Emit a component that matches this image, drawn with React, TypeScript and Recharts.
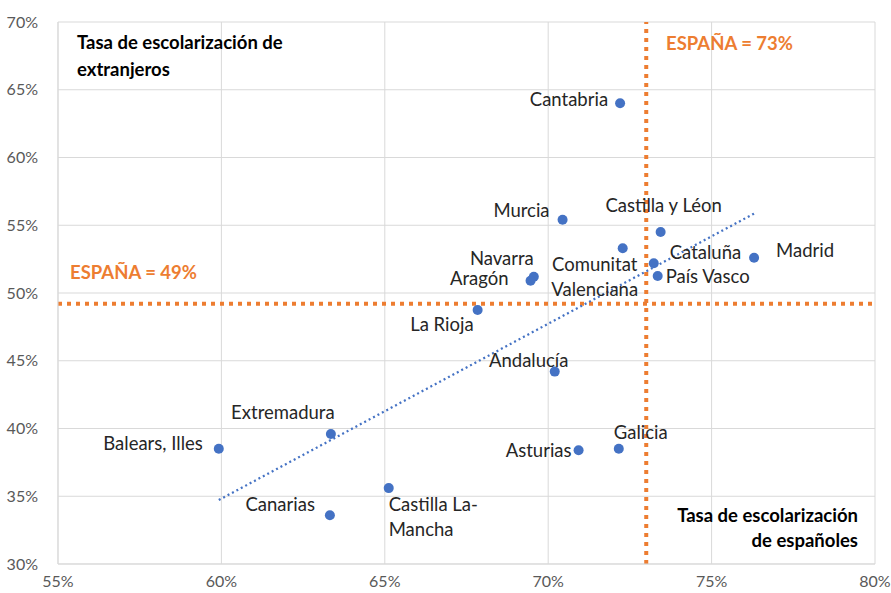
import React from 'react';
import { ScatterChart, Scatter, XAxis, YAxis, CartesianGrid, ReferenceLine } from 'recharts';

const regions = [
  'Cantabria', 'Murcia', 'Castilla y Léon', 'Comunitat Valenciana', 'Cataluña', 'Madrid',
  'País Vasco', 'Navarra', 'Aragón', 'La Rioja', 'Andalucía', 'Extremadura',
  'Balears, Illes', 'Asturias', 'Galicia', 'Castilla La-Mancha', 'Canarias'
];
const spanishRate = [72.2, 70.44, 73.44, 72.28, 73.23, 76.3, 73.35, 69.56, 69.46, 67.84, 70.2, 63.35, 59.92, 70.93, 72.16, 65.12, 63.32];
const foreignRate = [64.0, 55.4, 54.5, 53.3, 52.2, 52.6, 51.25, 51.2, 50.9, 48.75, 44.2, 39.6, 38.5, 38.4, 38.5, 35.6, 33.6];
const xTicks = [55, 60, 65, 70, 75, 80];
const yTicks = [30, 35, 40, 45, 50, 55, 60, 65, 70];
const spainSpanish = 73;
const spainForeign = 49.2;

// label placement (offset from point, anchor, lines)
const labelPlace: Record<string, { dx: number; dy: number; anchor: string; lines?: string[] }> = {
  'Cantabria': { dx: -12, dy: -4, anchor: 'end' },
  'Murcia': { dx: -13, dy: -10, anchor: 'end' },
  'Castilla y Léon': { dx: 3, dy: -27, anchor: 'middle' },
  'Comunitat Valenciana': { dx: -28, dy: 16, anchor: 'middle', lines: ['Comunitat', 'Valenciana'] },
  'Cataluña': { dx: 16, dy: -11, anchor: 'start' },
  'Madrid': { dx: 22, dy: -8, anchor: 'start' },
  'País Vasco': { dx: 8, dy: 0, anchor: 'start' },
  'Navarra': { dx: 0, dy: -19, anchor: 'end' },
  'Aragón': { dx: -22, dy: -3, anchor: 'end' },
  'La Rioja': { dx: -4, dy: 14, anchor: 'end' },
  'Andalucía': { dx: -26, dy: -12, anchor: 'middle' },
  'Extremadura': { dx: -48, dy: -22, anchor: 'middle' },
  'Balears, Illes': { dx: -16, dy: -6, anchor: 'end' },
  'Asturias': { dx: -7, dy: 0, anchor: 'end' },
  'Galicia': { dx: 22, dy: -17, anchor: 'middle' },
  'Castilla La-Mancha': { dx: 0, dy: 16, anchor: 'start', lines: ['Castilla La-', 'Mancha'] },
  'Canarias': { dx: -15, dy: -11, anchor: 'end' },
};

const points = regions.map((name, i) => ({ name, x: spanishRate[i], y: foreignRate[i] }));

// linear trendline from the points
const n = points.length;
const mx = spanishRate.reduce((a, b) => a + b, 0) / n;
const my = foreignRate.reduce((a, b) => a + b, 0) / n;
let sxy = 0, sxx = 0;
points.forEach(p => { sxy += (p.x - mx) * (p.y - my); sxx += (p.x - mx) ** 2; });
const slope = sxy / sxx;
const x0 = Math.min(...spanishRate), x1 = Math.max(...spanishRate);
const trend = [
  { x: x0, y: my + slope * (x0 - mx) },
  { x: x1, y: my + slope * (x1 - mx) },
];

const FONT = 'Lato, "Noto Sans", sans-serif';
const ORANGE = '#ED7D31';
const BLUE = '#4472C4';

function PointShape(props: any) {
  const { cx, cy, payload } = props;
  const lp = labelPlace[payload.name];
  const lines = lp.lines ?? [payload.name];
  return (
    <g>
      <circle cx={cx} cy={cy} r={5} fill={BLUE} />
      {lines.map((t, i) => (
        <text key={i} x={cx + lp.dx} y={cy + lp.dy + i * 25} textAnchor={lp.anchor as any}
          dominantBaseline="central" fontSize={18.5} fill="#262626" fontFamily={FONT}>{t}</text>
      ))}
    </g>
  );
}

const annot: React.CSSProperties = { position: 'absolute', fontFamily: FONT, fontWeight: 700, fontSize: 18.5, whiteSpace: 'nowrap' };

export default function App() {
  return (
    <div style={{ position: 'relative', width: 891, height: 593, background: '#fff' }}>
      <style>{'body{margin:0}'}</style>
      <ScatterChart width={891} height={593} margin={{ top: 22, right: 16, bottom: 0, left: 0 }}>
        <CartesianGrid stroke="#d9d9d9" strokeWidth={1} />
        <XAxis type="number" dataKey="x" domain={[55, 80]} ticks={xTicks} allowDataOverflow
          tickFormatter={(v: number) => `${v}%`} height={29} tickLine={false}
          axisLine={{ stroke: '#d9d9d9' }} tick={{ fill: '#595959', fontSize: 16, fontFamily: FONT }} tickMargin={6} />
        <YAxis type="number" dataKey="y" domain={[30, 70]} ticks={yTicks} allowDataOverflow
          tickFormatter={(v: number) => `${v}%`} width={58} tickLine={false}
          axisLine={{ stroke: '#d9d9d9' }} tick={{ fill: '#595959', fontSize: 16, fontFamily: FONT }} tickMargin={14} />
        <ReferenceLine y={spainForeign} stroke={ORANGE} strokeWidth={4} strokeDasharray="4 5" />
        <ReferenceLine x={spainSpanish} stroke={ORANGE} strokeWidth={4} strokeDasharray="4 5" />
        <Scatter data={trend} line={{ stroke: BLUE, strokeWidth: 2.25, strokeDasharray: '2 3' }}
          shape={() => null} isAnimationActive={false} />
        <Scatter data={points} shape={PointShape} isAnimationActive={false} />
      </ScatterChart>
      <div style={{ ...annot, left: 77, top: 29, lineHeight: '27px', color: '#000' }}>Tasa de escolarización de<br />extranjeros</div>
      <div style={{ ...annot, left: 666, top: 30, lineHeight: '27px', color: ORANGE }}>ESPAÑA = 73%</div>
      <div style={{ ...annot, left: 70, top: 259, lineHeight: '27px', color: ORANGE }}>ESPAÑA = 49%</div>
      <div style={{ ...annot, right: 891 - 858, top: 503, lineHeight: '25px', color: '#000', textAlign: 'right' }}>Tasa de escolarización<br />de españoles</div>
    </div>
  );
}
